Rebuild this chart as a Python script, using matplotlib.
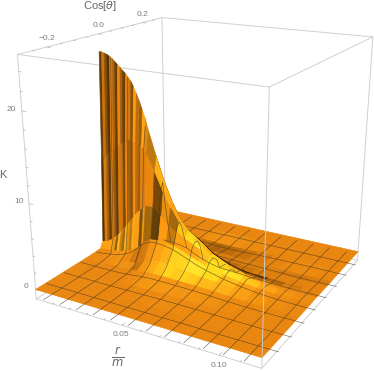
import numpy as np
import matplotlib
matplotlib.use('Agg')
import matplotlib.pyplot as plt
from matplotlib.colors import LinearSegmentedColormap
from mpl_toolkits.mplot3d import proj3d
from mpl_toolkits.mplot3d.art3d import Poly3DCollection

plt.rcParams['font.family'] = ['Liberation Sans', 'DejaVu Sans']
plt.rcParams['mathtext.fontset'] = 'dejavusans'

r_vals = [0, .0015, .0031, .0046, .0062, .0077, .0092, .0108, .0123, .0138, .0154, .0169, .0185,
          .02, .0215, .0231, .0246, .0262, .0277,
          .0323, .0369, .0415, .0462, .0508, .0554, .06, .0646,
          .0738, .0831, .0923, .1015, .1108, .12]
cos_vals = [-.3, -.2333, -.1667, -.1, -.0667, -.0333, -.02, -.01, 0, .01, .02, .0333, .0667, .1, .1667, .2333, .3]

# K, one row per cos value, one column per r value
k_m30 = [0.0] * 33
k_m23 = [0.0] * 33
k_m17 = [.01] * 19 + [.02, .03, .04, .05, .06, .07, .07, .07, .06, .04, .02, 0, 0, 0]
k_m10 = [.01, .01, .01, .01, .01, .01, .02, .02, .02, .02, .02, .03, .03, .03, .04, .05, .06, .08, .1,
         .2, .3, .35, .35, .35, .32, .3, .28, .2, .1, .03, 0, 0, 0]
k_m07 = [.03, .03, .04, .05, .06, .07, .08, .1, .1, .12, .13, .14, .15, .16, .18, .2, .22, .25, .3,
         .8, 1.1, 1.2, 1.2, 1, .95, .8, .65, .5, .3, .15, .06, .02, 0]
k_m03 = [.1, .1, .12, .15, .2, .25, .3, .35, .4, .5, .6, .7, .85, 1, 1.2, 1.4, 1.7, 2, 2.4,
         3, 3.1, 3, 2.8, 2.4, 2, 1.6, 1.3, .8, .45, .2, .08, .03, .01]
k_m02 = [.9, 1, 1.1, 1.3, 1.5, 1.8, 2.1, 2.5, 2.9, 3.3, 3.7, 4.1, 4.6, 5, 5.4, 5.8, 6.1, 6.4, 6.7,
         6.8, 5.9, 5, 4.3, 3.7, 3.2, 2.7, 2, 1.1, .6, .3, .13, .05, .02]
k_m01 = [11, 11.3, 11.7, 12.1, 12.5, 12.8, 13, 13.2, 13.5, 13.6, 13.9, 14.1, 14.2, 14, 13.9, 13.8, 13.6, 13.4, 13,
         11, 8.8, 6.9, 5.3, 4.2, 3.6, 2.9, 2.1, 1.2, .7, .35, .15, .06, .02]
k_00 = [23.7, 23.7, 23.6, 23.5, 23.3, 23.1, 22.8, 22.5, 22.2, 21.9, 21.6, 21.2, 20.8, 20.2, 19.5, 18.7, 17.8, 16.9, 15.7,
        12.6, 9.7, 7.4, 5.5, 4.4, 3.7, 3, 2.2, 1.3, .7, .35, .15, .07, .03]
k_p01 = [10, 10.3, 10.7, 11.1, 11.5, 11.8, 12, 12.2, 12.3, 12.4, 12.4, 12.5, 12.5, 12.3, 12.1, 11.9, 11.8, 11.6, 11.1,
         9.1, 7, 5.7, 4.7, 4, 3.4, 2.7, 1.9, 1.1, .6, .3, .13, .05, .02]
k_p02 = [.8, .9, 1, 1.1, 1.3, 1.5, 1.8, 2.1, 2.5, 2.8, 3.1, 3.5, 3.9, 4.2, 4.6, 4.9, 5.2, 5.4, 5.7,
         5.6, 4.7, 4, 3.5, 3.1, 2.7, 2.2, 1.6, .85, .45, .2, .1, .04, .01]
k_p03 = [.07, .07, .08, .1, .14, .17, .2, .24, .28, .35, .42, .5, .6, .7, .84, 1, 1.2, 1.4, 1.7,
         2.1, 2.1, 2, 1.8, 1.3, .9, .6, .4, .3, .15, .08, .04, .02, .01]
k_p07 = [.02] * 19 + [.25, .3, .3, .3, .3, .3, .25, .2, .12, .06, .03, .01, 0, 0]
k_p10 = [0.0] * 19 + [.15, .2, .2, .2, .2, .2, .15, .1, .05, .02, -.03, -.06, -.06, -.02]
k_p17 = [0.0] * 19 + [0, 0, -.05, -.12, -.17, -.18, -.17, -.14, -.08, -.04, -.01, 0, 0, 0]
k_p23 = [0.0] * 33
k_p30 = [0.0] * 33

r_ticks = [.05, .10]
r_tick_labels = ['0.05', '0.10']
cos_ticks = [-.2, 0, .2]
cos_tick_labels = ['\u22120.2', '0.0', '0.2']
k_ticks = [0, 10, 20]
k_tick_labels = ['0', '10', '20']

# dark and light stripes on the steep wall, per r column
wall_shade = [.5, .95, .65, .4, 1.05, .8, .5, 1.1, .75, .5, 1.05, .95, .6, 1.15, .8, .65, 1.15, .9, .75, 1.05, 1.0, 1.0]

R0, R1 = 0, .12
C0, C1 = -.3, .3
Z0, Z1 = -1.15, 25.7
BOX = (1, .9707, .9891)
GRAY = '#cdcdcd'
TICK = '#b0b0b0'
TXT = '#7d7d7d'
LIGHT = np.array([.45, -.6, .66])
VIEW = np.array([.464, -.822, .332])

K = np.array([k_m30, k_m23, k_m17, k_m10, k_m07, k_m03, k_m02, k_m01, k_00,
              k_p01, k_p02, k_p03, k_p07, k_p10, k_p17, k_p23, k_p30])
R = np.array(r_vals)
C = np.array(cos_vals)
mesh_rows = [1, 2, 3, 5, 11, 13, 14, 15]
mesh_cols = [6, 12, 18, 20, 22, 24, 26, 27, 28, 29, 30, 31]

cmap = LinearSegmentedColormap.from_list('glow', [(0, '#3d2200'), (.3, '#a85f08'), (.5, '#e9860f'),
                                                  (.72, '#ffa515'), (.9, '#ffe01e'), (1, '#fff25a')])

fig = plt.figure(figsize=(3.74, 3.71), dpi=100)
ax = fig.add_subplot(projection='3d', computed_zorder=False)
ax.view_init(19.3687, -60.4725)
ax.set_proj_type('persp', focal_length=.3631)
ax.set_box_aspect(BOX)
ax.set_position([-.0212, -.0255, 1.1071, 1.1071 * 374 / 371])
ax.set_axis_off()
ax.set_xlim(R0, R1)
ax.set_ylim(C0, C1)
ax.set_zlim(Z0, Z1)

verts = []
face = []
edge = []
# surface quads
for j in range(len(C) - 1):
    for i in range(len(R) - 1):
        # the back of the thin wall can't be seen and only upsets the depth sort
        if j >= 8 and j < 11 and i < 19:
            continue
        q = [(R[i], C[j], K[j, i]), (R[i + 1], C[j], K[j, i + 1]),
             (R[i + 1], C[j + 1], K[j + 1, i + 1]), (R[i], C[j + 1], K[j + 1, i])]
        dz_x = (K[j, i + 1] + K[j + 1, i + 1] - K[j, i] - K[j + 1, i]) / 2 / (Z1 - Z0)
        dz_y = (K[j + 1, i] + K[j + 1, i + 1] - K[j, i] - K[j, i + 1]) / 2 / (Z1 - Z0)
        sx = 1.8 * dz_x / ((R[i + 1] - R[i]) / (R1 - R0))
        sy = 1.8 * dz_y / ((C[j + 1] - C[j]) / (C1 - C0))
        n = np.array([-sx, -sy, 1.0]) / np.sqrt(sx ** 2 + sy ** 2 + 1)
        s = np.clip(.5 + 1.3 * (n @ LIGHT - .66), 0, 1)
        if i < 20 and j == 5:
            s = .68  # lighter strands at the foot of the wall
        col = np.array(cmap(s))
        if i < len(wall_shade) and sy > 5:
            # each wall row gets its own phase so the stripes don't line up exactly
            shade = wall_shade[(i + (7 - j) * 3) % len(wall_shade)] if j < 7 else wall_shade[i]
            col[:3] = np.clip(col[:3] * shade, 0, 1)
        verts.append(q)
        face.append(col)
        edge.append(col)

# mesh lines live in the same collection so the wall hides them too,
# nudged toward the camera so neighbouring quads don't paint over them
line_col = (.27, .22, .12, .75)
bias = .14 * VIEW * np.array([R1 - R0, (C1 - C0) / BOX[1], (Z1 - Z0) / BOX[2]])
for j in mesh_rows:
    for i in range(len(R) - 1):
        if j == 11 and i < 19:
            continue
        a = np.array((R[i], C[j], K[j, i])) + bias
        b = np.array((R[i + 1], C[j], K[j, i + 1])) + bias
        verts.append([a, b, b, a])
        face.append((0, 0, 0, 0))
        edge.append(line_col)
for i in mesh_cols:
    for j in range(len(C) - 1):
        if i <= 18 and 8 <= j < 11:
            continue
        a = np.array((R[i], C[j], K[j, i])) + bias
        b = np.array((R[i], C[j + 1], K[j + 1, i])) + bias
        verts.append([a, b, b, a])
        face.append((0, 0, 0, 0))
        edge.append(line_col)

surf = Poly3DCollection(verts, facecolors=face, edgecolors=edge, linewidths=.45, zorder=2)
ax.add_collection3d(surf, autolim=False)


def seg(a, b, c='', lw=.65, z=1):
    ax.plot([a[0], b[0]], [a[1], b[1]], [a[2], b[2]], color=c or GRAY, lw=lw, zorder=z, solid_capstyle='round')


def label3d(x, y, z, t):
    u, v, _ = proj3d.proj_transform(x, y, z, ax.get_proj())
    ax.text2D(u, v, t, transform=ax.transData, fontsize=6, color=TXT, ha='center', va='center')


# box edges, only the near vertical runs over the surface
for zz in (Z0, Z1):
    seg((R0, C0, zz), (R1, C0, zz))
    seg((R1, C0, zz), (R1, C1, zz))
    seg((R1, C1, zz), (R0, C1, zz))
    seg((R0, C1, zz), (R0, C0, zz))
seg((R0, C0, Z0), (R0, C0, Z1))
seg((R1, C1, Z0), (R1, C1, Z1))
seg((R0, C1, Z0), (R0, C1, Z1))
seg((R1, C0, Z0), (R1, C0, Z1), z=3)

# ticks
for v in np.arange(.01, .12, .01):
    major = min(abs(v - t) for t in r_ticks) < 1e-6
    seg((v, C0, Z0), (v, C0 + (.012 if major else .006), Z0), TICK, .5)
for v in np.arange(-.25, .26, .05):
    major = min(abs(v - t) for t in cos_ticks) < 1e-6
    seg((R0, v, Z1), (R0 + (.0024 if major else .0012), v, Z1), TICK, .5)
for v in np.arange(0, 25.7, 2):
    major = min(abs(v - t) for t in k_ticks) < 1e-6
    seg((R0, C0, v), (R0 + (.0024 if major else .0012), C0, v), TICK, .5)

for v, t in zip(r_ticks, r_tick_labels):
    label3d(v + .002, C0 - .02, Z0 - .45, t)
for v, t in zip(cos_ticks, cos_tick_labels):
    label3d(R0, v + .002, Z1 + .9, t)
for v, t in zip(k_ticks, k_tick_labels):
    label3d(R0 - .006, C0, v, t)

ax.set_xticks([])
ax.set_yticks([])
ax.set_zticks([])

fig.text(100 / 374, 1 - 6 / 371, 'Cos[$\\theta$]', fontsize=8, color='#666666', ha='center', va='center')
fig.text(3 / 374, 1 - 175 / 371, 'K', fontsize=8, color='#666666', ha='center', va='center')
fig.text(118 / 374, 1 - 357 / 371, '$\\frac{r}{m}$', fontsize=12, color='#666666', ha='center', va='center')

fig.savefig('out.png', dpi=100)
